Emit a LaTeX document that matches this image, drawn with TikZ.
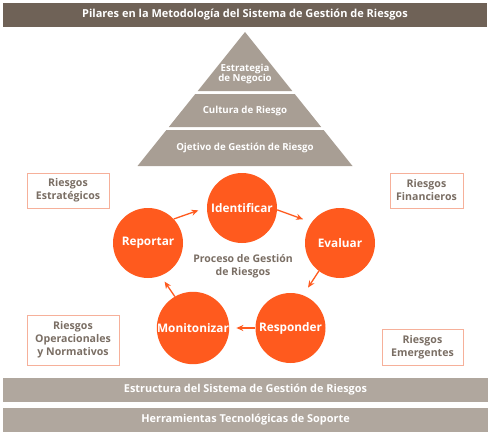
\documentclass[tikz,border=0pt]{standalone}
\usepackage{fontspec}
\setmainfont{Open Sans}
\usetikzlibrary{arrows.meta,calc}
\definecolor{darkbar}{HTML}{6F6257}
\definecolor{lightbar}{HTML}{B0A79E}
\definecolor{pyr}{HTML}{A89E94}
\definecolor{orng}{HTML}{FF5A1E}
\definecolor{txtb}{HTML}{7A6E64}
\definecolor{boxline}{HTML}{F6B09A}
\tikzset{
  bartext/.style={text=white,font=\bfseries\fontsize{10.9}{12}\selectfont},
  pyrtext/.style={text=white,font=\bfseries\fontsize{9.7}{11.5}\selectfont,align=center},
  circ/.style={circle,fill=orng,minimum size=70pt,inner sep=0pt,text=white,font=\bfseries\fontsize{11.8}{13}\selectfont},
  riskbox/.style={draw=boxline,line width=0.9pt,fill=white,text=txtb,font=\bfseries\fontsize{10.6}{13}\selectfont,align=center,inner sep=0pt},
  flow/.style={draw=orng,line width=1.3pt,-{Stealth[length=7pt,width=6pt]}},
}
\begin{document}
\begin{tikzpicture}[x=1pt,y=-1pt]
\useasboundingbox (0,0) rectangle (490,436);
% title bar
\fill[darkbar] (3,3) rectangle (487,27);
\node[bartext,font=\bfseries\fontsize{11}{12}\selectfont] (title) at (245,15) {Pilares en la Metodología del Sistema de Gestión de Riesgos};
% pyramid
\fill[pyr] (245,32) -- (292.3,91) -- (197.7,91) -- cycle;
\fill[pyr] (294.7,94) -- (321.2,127) -- (168.8,127) -- (195.3,94) -- cycle;
\fill[pyr] (323.6,130) -- (352.5,166) -- (137.5,166) -- (166.4,130) -- cycle;
\node[pyrtext] (p1) at (245,74) {Estrategia\\[-2pt]de Negocio};
\node[pyrtext] (p2) at (245,110.5) {Cultura de Riesgo};
\node[pyrtext] (p3) at (245,148) {Ojetivo de Gestión de Riesgo};
% risk boxes
\node[riskbox,minimum width=82pt,minimum height=35pt] (rest) at (68,190.5) {Riesgos\\Estratégicos};
\node[riskbox,minimum width=73pt,minimum height=35pt] (rfin) at (426.5,190.5) {Riesgos\\Financieros};
\node[riskbox,minimum width=92pt,minimum height=50pt] (rop) at (73,340) {Riesgos\\Operacionales\\y Normativos};
\node[riskbox,minimum width=81pt,minimum height=36pt] (remg) at (422.5,347) {Riesgos\\Emergentes};
% process circles
\node[circ] (ide) at (242,208) {Identificar};
\node[circ] (eva) at (340,243) {Evaluar};
\node[circ] (res) at (290.5,328) {Responder};
\node[circ] (mon) at (193,328) {Monitonizar};
\node[circ] (rep) at (148,243) {Reportar};
\node[text=txtb,font=\bfseries\fontsize{10.5}{13}\selectfont,align=center] (proc) at (243,266.5) {Proceso de Gestión\\de Riesgos};
% arrows
\draw[flow,shorten >=9pt] (rep.43) -- (ide.179);
\draw[flow,shorten >=9pt] (ide.-3) -- (eva.144);
\draw[flow,shorten >=9pt] (eva.233) -- (res.69);
\draw[flow,shorten >=7pt] (res.180) -- (mon.0);
\draw[flow,shorten >=7pt] (mon.120) -- (rep.291);
% bottom bars
\fill[lightbar] (3,378) rectangle (488,402);
\node[bartext] (b1) at (245.5,390) {Estructura del Sistema de Gestión de Riesgos};
\fill[lightbar] (3,408) rectangle (488,432);
\node[bartext] (b2) at (245.5,420) {Herramientas Tecnológicas de Soporte};
\end{tikzpicture}
\end{document}
